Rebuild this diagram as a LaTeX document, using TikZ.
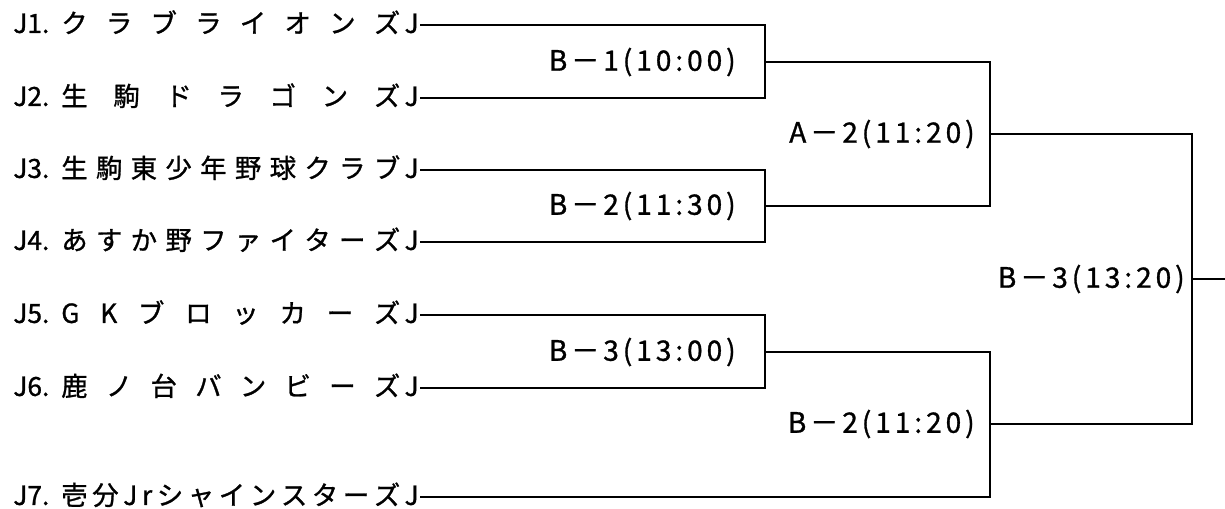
\documentclass[tikz,border=0pt]{standalone}
\usepackage{fontspec}
\usepackage{tikz}
\usetikzlibrary{math,positioning}
\setmainfont{Noto Sans CJK JP}
\newfontfamily\matchfont[LetterSpace=14,FakeBold=1]{Noto Sans CJK JP}
\newfontfamily\teamfont[FakeBold=1]{Noto Sans CJK JP}

\begin{document}
\begin{tikzpicture}[x=0.02cm, y=-0.02cm, line width=1.5pt]
    \tikzstyle{team}=[anchor=west, inner sep=0pt, font=\teamfont\fontsize{15pt}{17pt}\selectfont, text height=12pt, text depth=3pt];
    \tikzstyle{match}=[anchor=east, inner sep=0pt, font=\matchfont\fontsize{16pt}{18pt}\selectfont];
    \useasboundingbox (0,0) rectangle (1225,508);

    % Draw the team nodes
    \foreach \n/\name/\y in {1/{ク ラ ブ ラ イ オ ン ズ}/25, 2/{生 駒 ド ラ ゴ ン ズ}/98,
      3/{生 駒 東 少 年 野 球 ク ラ ブ}/170, 4/{あ す か 野 フ ァ イ タ ー ズ}/242,
      5/{G K ブ ロ ッ カ ー ズ}/315, 6/{鹿 ノ 台 バ ン ビ ー ズ}/388,
      7/{壱 分 J r シ ャ イ ン ス タ ー ズ}/497}
    \node[team] (T-\n) at (12,\y) {\makebox[0.96cm][l]{J\n.}\makebox[6.78cm][s]{\name}\,J};

    % Joints of the bracket
    \coordinate (R-1) at (765,62);
    \coordinate (R-2) at (765,206);
    \coordinate (R-3) at (765,352);
    \coordinate (Q-1) at (990,134);
    \coordinate (Q-2) at (990,424);
    \coordinate (F) at (1192,279);
    \coordinate (out) at (1225,279);

    % First round
    \foreach \a/\b/\r in {1/2/1, 3/4/2, 5/6/3}
    \draw (T-\a.east) -| (R-\r) |- (T-\b.east);

    % Second round and final
    \draw (R-1) -| (Q-1) |- (R-2);
    \draw (R-3) -| (Q-2) |- (T-7.east);
    \draw (Q-1) -| (F) |- (Q-2);
    \draw (F) -- (out);

    % Match labels
    \node[match] (B1) at (737,62) {B－1(10:00)};
    \node[match] (B2) at (737,206) {B－2(11:30)};
    \node[match] (B3) at (737,352) {B－3(13:00)};
    \node[match] (A2) at (976,134) {A－2(11:20)};
    \node[match] (B2s) at (976,424) {B－2(11:20)};
    \node[match] (B3f) at (1186,279) {B－3(13:20)};
\end{tikzpicture}
\end{document}
